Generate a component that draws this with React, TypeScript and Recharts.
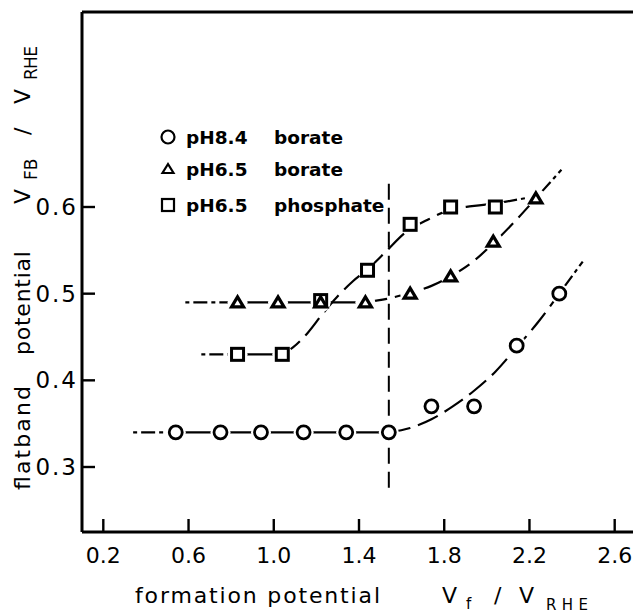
import React from "react";
import { ComposedChart, Line, Scatter, XAxis, YAxis, ReferenceLine } from "recharts";

const FONT = "'DejaVu Sans', sans-serif";

const xTicks = [0.2, 0.6, 1.0, 1.4, 1.8, 2.2, 2.6];
const yTicks = [0.3, 0.4, 0.5, 0.6];

// measured points
const borate84X = [0.54, 0.75, 0.94, 1.14, 1.34, 1.54, 1.74, 1.94, 2.14, 2.34];
const borate84Y = [0.34, 0.34, 0.34, 0.34, 0.34, 0.34, 0.37, 0.37, 0.44, 0.5];
const borate65X = [0.83, 1.02, 1.22, 1.43, 1.64, 1.83, 2.03, 2.23];
const borate65Y = [0.49, 0.49, 0.49, 0.49, 0.5, 0.52, 0.56, 0.61];
const phosX = [0.83, 1.04, 1.22, 1.44, 1.64, 1.83, 2.04];
const phosY = [0.43, 0.43, 0.492, 0.527, 0.58, 0.6, 0.6];

// hand-drawn guide curves
const borate84Lead = [[0.34, 0.34], [0.54, 0.34]];
const borate84Flat = [[0.54, 0.34], [1.54, 0.34]];
const borate84Curve = [[1.54, 0.34], [1.64, 0.345], [1.74, 0.355], [1.84, 0.37], [1.94, 0.388], [2.04, 0.41], [2.14, 0.438], [2.24, 0.467], [2.34, 0.5]];
const borate84Tail = [[2.34, 0.5], [2.45, 0.537]];

const borate65Lead = [[0.585, 0.49], [0.83, 0.49]];
const borate65Flat = [[0.83, 0.49], [1.43, 0.49]];
const borate65Curve = [[1.43, 0.49], [1.53, 0.494], [1.64, 0.501], [1.74, 0.509], [1.83, 0.52], [1.93, 0.536], [2.03, 0.558], [2.13, 0.583], [2.23, 0.61]];
const borate65Tail = [[2.23, 0.61], [2.35, 0.643]];

const phosLead = [[0.66, 0.43], [0.83, 0.43]];
const phosFlat = [[0.83, 0.43], [1.04, 0.43]];
const phosCurve = [[1.04, 0.43], [1.09, 0.438], [1.16, 0.455], [1.23, 0.477], [1.3, 0.497], [1.37, 0.514], [1.44, 0.528], [1.52, 0.547], [1.62, 0.571], [1.72, 0.585], [1.83, 0.597], [1.93, 0.601], [2.04, 0.604]];
const phosTail = [[2.04, 0.604], [2.2, 0.611]];

const markerLine = [[1.54, 0.276], [1.54, 0.633]];

const pts = (xs: number[], ys: number[]) => xs.map((x, i) => ({ x, y: ys[i] }));
const pairs = (a: number[][]) => a.map(([x, y]) => ({ x, y }));

const CircleMark = (p: any) => <circle cx={p.cx} cy={p.cy} r={6.5} fill="#fff" stroke="#000" strokeWidth={2.8} />;
const SquareMark = (p: any) => <rect x={p.cx - 6} y={p.cy - 6} width={12} height={12} fill="#fff" stroke="#000" strokeWidth={3} />;
const TriMark = (p: any) => (
  <path d={`M${p.cx},${p.cy - 5.5} L${p.cx + 6},${p.cy + 4.5} L${p.cx - 6},${p.cy + 4.5} Z`} fill="#fff" stroke="#000" strokeWidth={3.2} />
);
const Halo = (p: any) => <circle cx={p.cx} cy={p.cy} r={10} fill="#fff" />;

const DASH = "22 8";
const DASHDOT = "4 4 14 4";

export default function App() {
  const xTickStyle = { fontSize: 22, fill: "#000", fontFamily: FONT };
  const yTickStyle = { fontSize: 23, fill: "#000", fontFamily: FONT, letterSpacing: 2 };
  const axisLine = { stroke: "#000", strokeWidth: 3 };
  const tickLine = { stroke: "#000", strokeWidth: 2.4 };
  const lineProps = { stroke: "#000", strokeWidth: 2.2, dot: false, activeDot: false, isAnimationActive: false, dataKey: "y" } as any;

  return (
    <div style={{ position: "fixed", left: 0, top: 0, width: 633, height: 614, overflow: "hidden", background: "#fff", fontFamily: FONT }}>
      <ComposedChart width={636} height={614} margin={{ top: 12, right: 0, bottom: 0, left: 0 }}>
        <XAxis dataKey="x" type="number" domain={[0.1, 2.7]} ticks={xTicks} allowDataOverflow height={82}
          tickSize={-13} tickMargin={28} tick={xTickStyle} axisLine={axisLine} tickLine={tickLine}
          tickFormatter={(v: number) => v.toFixed(1)} />
        <XAxis xAxisId="top" orientation="top" dataKey="x" type="number" domain={[0.1, 2.7]} ticks={xTicks} allowDataOverflow
          height={0} tickSize={-11} tick={false} axisLine={axisLine} tickLine={tickLine} />
        <YAxis dataKey="y" type="number" domain={[0.225, 0.825]} ticks={yTicks} allowDataOverflow width={82}
          tickSize={-13} tickMargin={17} tick={yTickStyle} axisLine={axisLine} tickLine={tickLine}
          tickFormatter={(v: number) => v.toFixed(1)} />
        <YAxis yAxisId="right" orientation="right" dataKey="y" type="number" domain={[0.225, 0.825]} ticks={yTicks} allowDataOverflow
          width={0} tickSize={-11} tick={false} axisLine={axisLine} tickLine={tickLine} />

        {/* top edge of the frame */}
        <ReferenceLine y={0.825} stroke="#000" strokeWidth={3} ifOverflow="visible" />

        <ReferenceLine segment={pairs(markerLine)} stroke="#000" strokeWidth={2} strokeDasharray="16 8" ifOverflow="visible" />

        <Line data={pairs(borate84Lead)} {...lineProps} strokeDasharray={DASHDOT} />
        <Line data={pairs(borate84Flat)} {...lineProps} />
        <Line data={pairs(borate84Curve)} {...lineProps} type="monotone" strokeDasharray={DASH} />
        <Line data={pairs(borate84Tail)} {...lineProps} strokeDasharray={DASHDOT} />

        <Line data={pairs(borate65Lead)} {...lineProps} strokeDasharray={DASHDOT} />
        <Line data={pairs(borate65Flat)} {...lineProps} />
        <Line data={pairs(borate65Curve)} {...lineProps} type="monotone" strokeDasharray={DASH} />
        <Line data={pairs(borate65Tail)} {...lineProps} strokeDasharray={DASHDOT} />

        <Line data={pairs(phosLead)} {...lineProps} strokeDasharray={DASHDOT} />
        <Line data={pairs(phosFlat)} {...lineProps} />
        <Line data={pairs(phosCurve)} {...lineProps} type="monotone" strokeDasharray={DASH} />
        <Line data={pairs(phosTail)} {...lineProps} strokeDasharray={DASHDOT} />

        <Scatter data={pts(borate84X, borate84Y)} shape={Halo} isAnimationActive={false} />
        <Scatter data={pts(borate65X, borate65Y)} shape={Halo} isAnimationActive={false} />
        <Scatter data={pts(phosX, phosY)} shape={Halo} isAnimationActive={false} />
        <Scatter name="pH8.4 borate" data={pts(borate84X, borate84Y)} shape={CircleMark} isAnimationActive={false} />
        <Scatter name="pH6.5 phosphate" data={pts(phosX, phosY)} shape={SquareMark} isAnimationActive={false} />
        <Scatter name="pH6.5 borate" data={pts(borate65X, borate65Y)} shape={TriMark} isAnimationActive={false} />
      </ComposedChart>

      <svg width={633} height={614} style={{ position: "absolute", left: 0, top: 0, pointerEvents: "none" }} fontFamily={FONT} fill="#000">
        {/* legend */}
        <circle cx={168} cy={137} r={6.5} fill="none" stroke="#000" strokeWidth={2.2} />
        <path d="M168,164 L173.5,173 L162.5,173 Z" fill="none" stroke="#000" strokeWidth={2.2} />
        <rect x={162} y={199} width={12} height={12} fill="none" stroke="#000" strokeWidth={2.2} />
        <g fontSize={18.5} fontWeight="bold">
          <text x={186} y={144}>pH8.4</text>
          <text x={274} y={144}>borate</text>
          <text x={186} y={176}>pH6.5</text>
          <text x={274} y={176}>borate</text>
          <text x={186} y={212}>pH6.5</text>
          <text x={274} y={212}>phosphate</text>
        </g>

        {/* x title */}
        <text x={135} y={603} fontSize={22} textLength={245} lengthAdjust="spacing">formation potential</text>
        <text x={442} y={603} fontSize={22}>V</text>
        <text x={466} y={609} fontSize={15}>f</text>
        <text x={494} y={603} fontSize={22}>/</text>
        <text x={519} y={603} fontSize={22}>V</text>
        <text x={546} y={610} fontSize={15} textLength={42} lengthAdjust="spacing">RHE</text>

        {/* y title */}
        <g transform="translate(30,490) rotate(-90)">
          <text x={0} y={0} fontSize={22} textLength={104} lengthAdjust="spacing">flatband</text>
          <text x={135} y={0} fontSize={22} textLength={104} lengthAdjust="spacing">potential</text>
          <text x={286} y={0} fontSize={22}>V</text>
          <text x={310} y={7} fontSize={17}>FB</text>
          <text x={355} y={0} fontSize={22}>/</text>
          <text x={386} y={0} fontSize={22}>V</text>
          <text x={410} y={7} fontSize={17} textLength={34} lengthAdjust="spacing">RHE</text>
        </g>
      </svg>
    </div>
  );
}
